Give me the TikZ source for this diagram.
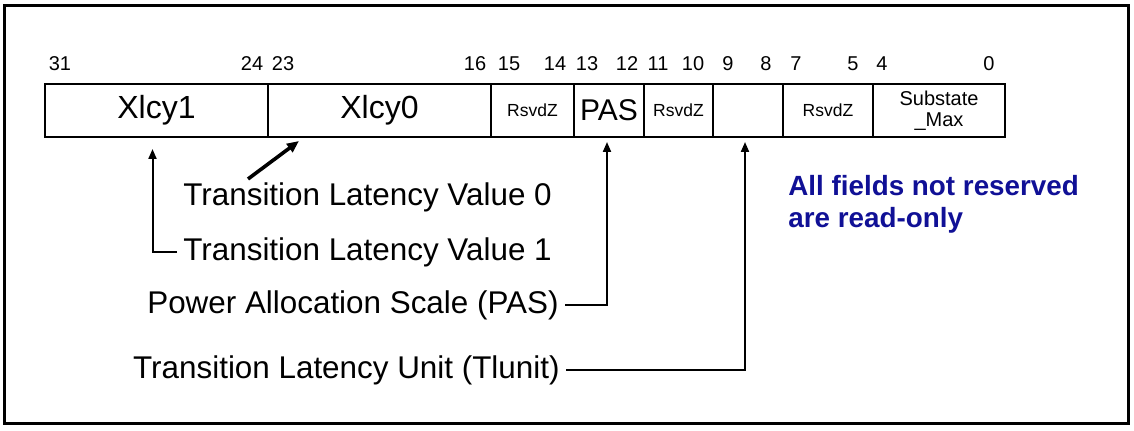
\documentclass[tikz,border=0pt]{standalone}
\usepackage{fontspec}
\setmainfont{Liberation Sans}
\usepackage{tikz}
\usetikzlibrary{
  arrows.meta,
  positioning
}
\usepackage{xcolor}
\definecolor{noteblue}{RGB}{16,16,150}

\begin{document}
\begin{tikzpicture}[
    x=0.5pt, y=-0.5pt,
    field/.style={rectangle, draw, line width=0.9pt, inner sep=0pt, outer sep=0pt,
                  minimum height=26.5pt, text centered,
                  font=\fontsize{16}{18}\selectfont},
    rsvd/.style={field, font=\fontsize{8.75}{10}\selectfont},
    bitno/.style={font=\fontsize{10}{12}\selectfont, inner sep=0pt},
    lbl/.style={font=\fontsize{15.7}{18}\selectfont, inner sep=3pt},
    note/.style={font=\bfseries\fontsize{13.9}{16}\selectfont, text=noteblue,
                 align=left, inner sep=0pt},
    arr/.style={-{Triangle[length=5pt,width=4pt]}, line width=1pt},
    bigarr/.style={-{Triangle[length=6pt,width=5pt]}, line width=1.8pt},
  ]
    \useasboundingbox (0,0) rectangle (1134,431);
    \draw[line width=1.5pt] (4,6) rectangle (1128,424);

    %% ── Register fields ──────────────────────────────────────
    \node[field, minimum width=111.5pt] (xlcy1) at (156.5,110.5) {Xlcy1};
    \node[field, minimum width=111.5pt] (xlcy0) [right=0pt of xlcy1] {Xlcy0};
    \node[rsvd, minimum width=41.5pt]   (rz1)   [right=0pt of xlcy0] {RsvdZ};
    \node[field, minimum width=35pt, font=\fontsize{15}{17}\selectfont]
                                        (pas)   [right=0pt of rz1]   {PAS};
    \node[rsvd, minimum width=34.5pt]   (rz2)   [right=0pt of pas]   {RsvdZ};
    \node[field, minimum width=35pt]    (tlf)   [right=0pt of rz2]   {};
    \node[rsvd, minimum width=45pt]     (rz3)   [right=0pt of tlf]   {RsvdZ};
    \node[field, minimum width=66pt, align=center,
          font=\fontsize{10}{10.5}\selectfont]
                                        (smax)  [right=0pt of rz3]   {Substate\\\_Max};

    %% ── Bit numbers ──────────────────────────────────────────
    \node[bitno] (b31) at (60,64)  {31};
    \node[bitno] (b24) at (252,64) {24};
    \node[bitno] (b23) at (283,64) {23};
    \node[bitno] (b16) at (475,64) {16};
    \node[bitno] (b15) at (509,64) {15};
    \node[bitno] (b14) at (555,64) {14};
    \node[bitno] (b13) at (587,64) {13};
    \node[bitno] (b12) at (627,64) {12};
    \node[bitno] (b11) at (658,64) {11};
    \node[bitno] (b10) at (693,64) {10};
    \node[bitno] (b9)  at (728,64) {9};
    \node[bitno] (b8)  at (766,64) {8};
    \node[bitno] (b7)  at (796,64) {7};
    \node[bitno] (b5)  at (853,64) {5};
    \node[bitno] (b4)  at (882,64) {4};
    \node[bitno] (b0)  at (989,64) {0};

    %% ── Field labels ─────────────────────────────────────────
    \node[lbl, anchor=west] (lv0)  at (177,197) {Transition Latency Value 0};
    \node[lbl, anchor=west] (lv1)  at (177,252) {Transition Latency Value 1};
    \node[lbl, anchor=east] (lpas) at (565,305) {Power Allocation Scale (PAS)};
    \node[lbl, anchor=east] (ltl)  at (566,370) {Transition Latency Unit (Tlunit)};
    \node[note, anchor=north west] (ro) at (788,175) {All fields not reserved\\are read-only};

    %% ── Arrows ───────────────────────────────────────────────
    \coordinate (v0tail) at (248,179);
    \draw[bigarr] (v0tail) -- ([xshift=15.5pt,yshift=-2pt]xlcy0.south west);
    \draw[arr] (lv1.west) -| ([xshift=-2pt,yshift=-6pt]xlcy1.south);
    \draw[arr] (lpas.east) -| ([xshift=-1pt,yshift=-2.5pt]pas.south);
    \draw[arr] (ltl.east) -| ([xshift=-1.5pt,yshift=-2.5pt]tlf.south);

  \end{tikzpicture}
\end{document}
